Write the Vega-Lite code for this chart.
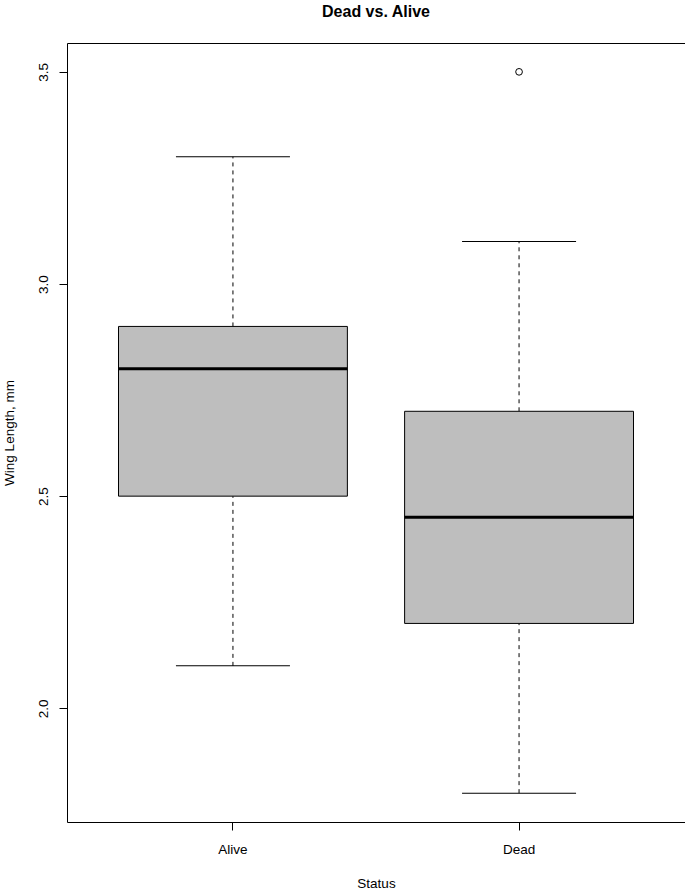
{
  "$schema": "https://vega.github.io/schema/vega-lite/v6.json",
  "width": 618,
  "height": 779,
  "autosize": {"type": "none"},
  "padding": {"left": 67, "top": 43, "right": 0, "bottom": 70},
  "background": "white",
  "title": {
    "text": "Dead vs. Alive",
    "font": "Liberation Sans",
    "fontSize": 16,
    "fontWeight": "bold",
    "color": "black",
    "anchor": "middle",
    "baseline": "alphabetic",
    "frame": "group",
    "offset": 10.5
  },
  "config": {
    "view": {"stroke": "black", "strokeWidth": 1},
    "axis": {
      "labelFont": "Liberation Sans",
      "labelFontSize": 13.5,
      "labelColor": "black",
      "titleFont": "Liberation Sans",
      "titleFontSize": 13.5,
      "titleFontWeight": "normal",
      "titleColor": "black",
      "tickColor": "black",
      "tickSize": 8,
      "grid": false,
      "domain": false
    }
  },
  "datasets": {
    "stats": [
      {"status": "Alive", "lower": 2.1, "q1": 2.5, "median": 2.8, "q3": 2.9, "upper": 3.3},
      {"status": "Dead", "lower": 1.8, "q1": 2.2, "median": 2.45, "q3": 2.7, "upper": 3.1}
    ],
    "outliers": [
      {"status": "Dead", "value": 3.5}
    ]
  },
  "data": {"name": "stats"},
  "encoding": {
    "x": {
      "field": "status",
      "type": "nominal",
      "scale": {"domain": ["Alive", "Dead"], "paddingInner": 0.2, "paddingOuter": 0.18},
      "axis": {
        "title": "Status",
        "labelAngle": 0,
        "labelBaseline": "alphabetic",
        "labelPadding": 23,
        "titleBaseline": "alphabetic",
        "titleY": 65
      }
    }
  },
  "layer": [
    {
      "mark": {"type": "rule", "color": "black", "strokeWidth": 1, "strokeDash": [4, 4]},
      "encoding": {
        "y": {
          "field": "lower",
          "type": "quantitative",
          "scale": {"domain": [1.732, 3.568], "nice": false, "zero": false},
          "axis": {
            "title": "Wing Length, mm",
            "values": [2.0, 2.5, 3.0, 3.5],
            "format": ".1f",
            "labelAngle": -90,
            "labelAlign": "center",
            "labelBaseline": "alphabetic",
            "labelPadding": 11.5,
            "titleBaseline": "alphabetic",
            "titleX": -54
          }
        },
        "y2": {"field": "q1"}
      }
    },
    {
      "mark": {"type": "rule", "color": "black", "strokeWidth": 1, "strokeDash": [4, 4]},
      "encoding": {
        "y": {"field": "q3", "type": "quantitative"},
        "y2": {"field": "upper"}
      }
    },
    {
      "mark": {"type": "tick", "color": "black", "size": 114, "thickness": 1, "opacity": 1},
      "encoding": {"y": {"field": "lower", "type": "quantitative"}}
    },
    {
      "mark": {"type": "tick", "color": "black", "size": 114, "thickness": 1, "opacity": 1},
      "encoding": {"y": {"field": "upper", "type": "quantitative"}}
    },
    {
      "mark": {"type": "bar", "fill": "#BEBEBE", "stroke": "black", "strokeWidth": 1},
      "encoding": {
        "y": {"field": "q1", "type": "quantitative"},
        "y2": {"field": "q3"}
      }
    },
    {
      "mark": {"type": "tick", "color": "black", "size": 229, "thickness": 3, "opacity": 1},
      "encoding": {"y": {"field": "median", "type": "quantitative"}}
    },
    {
      "data": {"name": "outliers"},
      "mark": {"type": "point", "shape": "circle", "filled": false, "stroke": "black", "strokeWidth": 1, "size": 45, "opacity": 1},
      "encoding": {"y": {"field": "value", "type": "quantitative"}}
    }
  ]
}
